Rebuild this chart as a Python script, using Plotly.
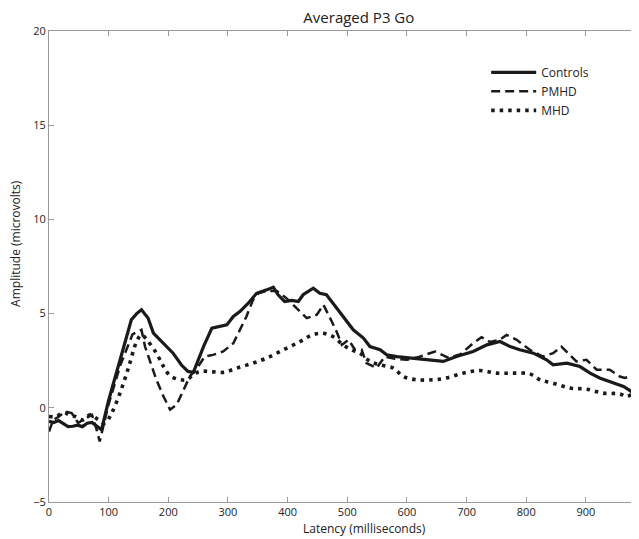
import plotly.graph_objects as go

# latency (ms) and amplitude (microvolts)
controls_ms = [0, 8, 16, 24, 32, 40, 48, 56, 64, 72, 80, 88, 100, 112, 125, 138, 147, 155,
               166, 175, 192, 208, 222, 233, 242, 259, 273, 287, 298, 309, 320, 334, 348,
               365, 376, 384, 395, 407, 418, 426, 443, 454, 465, 476, 493, 510, 527, 538,
               555, 566, 583, 605, 633, 661, 683, 711, 734, 756, 773, 789, 812, 834, 845,
               868, 890, 907, 923, 946, 963, 979, 989]
controls_uv = [-0.72, -0.78, -0.68, -0.85, -1.0, -0.98, -0.92, -1.0, -0.82, -0.78, -0.95, -1.17,
               0.4, 1.8, 3.2, 4.67, 5.0, 5.2, 4.77, 3.97, 3.44, 2.9, 2.27, 1.93, 1.88, 3.25,
               4.23, 4.35, 4.4, 4.85, 5.11, 5.55, 6.08, 6.26, 6.4, 6.0, 5.64, 5.7, 5.64, 6.0,
               6.35, 6.08, 6.0, 5.55, 4.85, 4.14, 3.7, 3.25, 3.08, 2.81, 2.72, 2.64, 2.55,
               2.46, 2.72, 2.99, 3.34, 3.52, 3.25, 3.08, 2.9, 2.55, 2.28, 2.37, 2.19, 1.84,
               1.58, 1.31, 1.13, 0.81, 0.86]

pmhd_ms = [0, 7, 15, 27, 38, 49, 57, 65, 72, 80, 85, 100, 120, 140, 155, 161, 169, 180,
           192, 203, 214, 225, 236, 250, 261, 275, 292, 309, 320, 331, 342, 351, 365, 382,
           398, 418, 432, 449, 460, 474, 482, 491, 502, 513, 524, 532, 549, 563, 580, 600,
           620, 647, 670, 690, 711, 725, 739, 755, 767, 784, 806, 828, 845, 859, 870, 884,
           901, 918, 940, 957, 965, 982, 989]
pmhd_uv = [-1.26, -0.64, -0.5, -0.2, -0.28, -0.81, -0.64, -0.5, -0.37, -1.17, -1.79, 0.2,
           2.3, 3.9, 4.14, 3.25, 2.55, 1.49, 0.6, -0.1, 0.16, 0.96, 1.66, 2.19, 2.72, 2.81,
           2.99, 3.43, 4.14, 4.85, 5.73, 6.08, 6.2, 6.2, 5.82, 5.2, 4.76, 4.94, 5.47, 4.58,
           4.05, 3.34, 3.61, 3.08, 3.08, 2.37, 2.11, 2.72, 2.6, 2.55, 2.7, 2.99, 2.65, 2.85,
           3.43, 3.75, 3.5, 3.6, 3.87, 3.61, 3.08, 2.72, 2.9, 3.25, 2.9, 2.46, 2.55, 2.02,
           2.02, 1.66, 1.58, 1.75, 2.0]

mhd_ms = [0, 13, 20, 27, 35, 44, 57, 69, 83, 94, 105, 119, 133, 147, 155, 164, 180, 192,
          203, 220, 231, 242, 253, 270, 292, 315, 342, 365, 393, 421, 440, 457, 476, 493,
          507, 521, 538, 555, 577, 594, 616, 644, 666, 694, 722, 750, 778, 806, 823, 845,
          873, 901, 929, 957, 968, 985, 989]
mhd_uv = [-0.46, -0.46, -0.3, -0.28, -0.4, -0.46, -0.64, -0.37, -0.64, -0.81, -0.28, 0.78,
          2.11, 3.52, 3.87, 3.61, 2.9, 2.19, 1.7, 1.49, 1.49, 1.75, 1.93, 1.93, 1.88, 2.11,
          2.37, 2.64, 3.08, 3.52, 3.85, 3.96, 3.78, 3.34, 3.08, 2.9, 2.46, 2.28, 2.11, 1.66,
          1.49, 1.49, 1.58, 1.84, 1.98, 1.84, 1.84, 1.8, 1.49, 1.31, 1.05, 0.99, 0.78, 0.74,
          0.6, 0.87, 0.87]

x_ticks = [0, 100, 200, 300, 400, 500, 600, 700, 800, 900]
y_ticks = [-5, 0, 5, 10, 15, 20]

font = 'Open Sans, Noto Sans, sans-serif'
ink = '#1a1a1a'
text_col = '#222'

fig = go.Figure()
fig.add_trace(go.Scatter(
    x=controls_ms, y=controls_uv, mode='lines', name='Controls',
    line=dict(color=ink, width=3.2)
))
fig.add_trace(go.Scatter(
    x=pmhd_ms, y=pmhd_uv, mode='lines', name='PMHD',
    line=dict(color=ink, width=2.5, dash='9px,5px')
))
fig.add_trace(go.Scatter(
    x=mhd_ms, y=mhd_uv, mode='lines', name='MHD', line_shape='spline',
    line=dict(color=ink, width=3.6, dash='3.5px,5px')
))

# the page body adds an 8px offset, so the figure is 8px smaller than the window
fig.update_layout(
    width=631, height=531,
    margin=dict(l=41, r=0, t=23, b=37, autoexpand=False),
    paper_bgcolor='white', plot_bgcolor='white',
    font=dict(family=font, size=11, color=text_col),
    title=dict(text='Averaged P3 Go', xref='container', x=0.556, xanchor='center',
               yref='container', y=0.982, yanchor='middle',
               font=dict(size=15, color=text_col)),
    showlegend=True,
    legend=dict(x=0.741, y=0.943, xanchor='left', yanchor='top', bgcolor='rgba(0,0,0,0)',
                itemwidth=45, font=dict(size=12), tracegroupgap=0),
    annotations=[
        dict(text='Latency (milliseconds)', xref='paper', yref='paper', x=0.534, y=-0.057,
             xanchor='center', yanchor='middle', showarrow=False,
             font=dict(size=12, color=text_col)),
        dict(text='Amplitude (microvolts)', xref='paper', yref='paper', x=-0.056, y=0.55,
             xanchor='center', yanchor='middle', textangle=-90, showarrow=False,
             font=dict(size=12, color=text_col)),
    ],
)
fig.update_xaxes(
    range=[0, 989], tickvals=x_ticks, showgrid=False, zeroline=False, automargin=False,
    showline=True, linecolor='#9a9a9a', linewidth=1, mirror='ticks',
    ticks='inside', ticklen=5, tickcolor='#9a9a9a'
)
fig.update_yaxes(
    range=[-5, 20], tickvals=y_ticks, showgrid=False, zeroline=False, automargin=False,
    showline=True, linecolor='#9a9a9a', linewidth=1, mirror=False,
    ticks='inside', ticklen=5, tickcolor='#9a9a9a'
)

fig.write_html("out.html")
